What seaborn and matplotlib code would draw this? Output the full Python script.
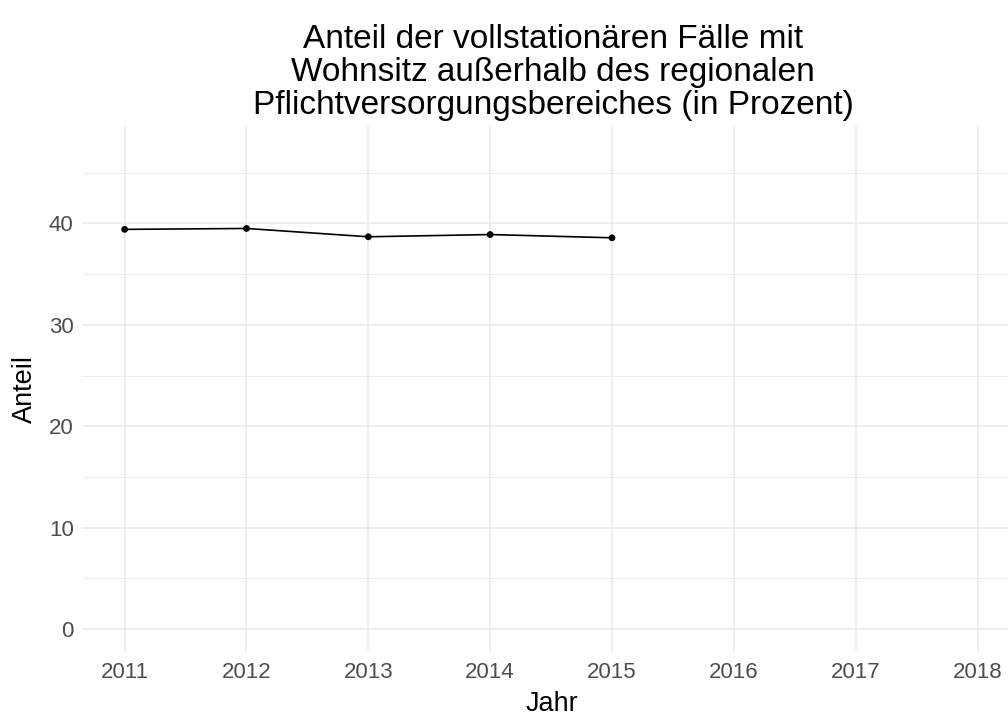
import matplotlib
matplotlib.use("Agg")
import matplotlib.pyplot as plt
import seaborn as sns
import pandas as pd
from matplotlib.ticker import MultipleLocator

years = [2011, 2012, 2013, 2014, 2015]
anteil = [39.41, 39.5, 38.68, 38.9, 38.58]
x_ticks = [2011, 2012, 2013, 2014, 2015, 2016, 2017, 2018]
y_ticks = [0, 10, 20, 30, 40]

title = ("Anteil der vollstationären Fälle mit\n"
         "Wohnsitz außerhalb des regionalen\n"
         "Pflichtversorgungsbereiches (in Prozent)")

df = pd.DataFrame({"Jahr": years, "Anteil": anteil})

sns.set_theme(style="white")
plt.rcParams["font.family"] = ["Liberation Sans", "DejaVu Sans"]

fig = plt.figure(figsize=(10.08, 7.15), dpi=100)
ax = fig.add_axes([82 / 1008, 63 / 715, 1 - 82 / 1008, (652 - 126) / 715])

sns.lineplot(data=df, x="Jahr", y="Anteil", ax=ax, color="black", linewidth=1.2, zorder=3)
sns.scatterplot(data=df, x="Jahr", y="Anteil", ax=ax, color="black", s=24, edgecolor="none", zorder=4)

ax.set_xlim(2010.65, 2018.25)
ax.set_ylim(-2.25, 49.6)
ax.set_xticks(x_ticks)
ax.set_xticklabels([str(v) for v in x_ticks])
ax.set_yticks(y_ticks)
ax.yaxis.set_minor_locator(MultipleLocator(5))
ax.xaxis.set_minor_locator(MultipleLocator(0.5))

ax.grid(which="major", color="#ebebeb", linewidth=1.2)
ax.grid(which="minor", axis="y", color="#ebebeb", linewidth=0.6)
ax.grid(which="minor", axis="x", visible=False)
ax.set_axisbelow(True)
for s in ax.spines.values():
    s.set_visible(False)

ax.tick_params(axis="both", which="both", length=0, labelsize=16, labelcolor="#4d4d4d")
ax.tick_params(axis="x", pad=7)
ax.tick_params(axis="y", pad=6)

ax.set_xlabel("Jahr", fontsize=19.5, color="black")
ax.xaxis.set_label_coords((552 - 82) / 926, -39 / 526)
ax.set_ylabel("Anteil", fontsize=19.5, color="black")
ax.yaxis.set_label_coords(-(82 - 38) / 926, 0.5)

fig.text(553 / 1008, 1 - 121 / 715, title, ha="center", va="bottom",
         fontsize=24, color="black", linespacing=1.08)

fig.savefig("out.png", dpi=100, facecolor="white")
